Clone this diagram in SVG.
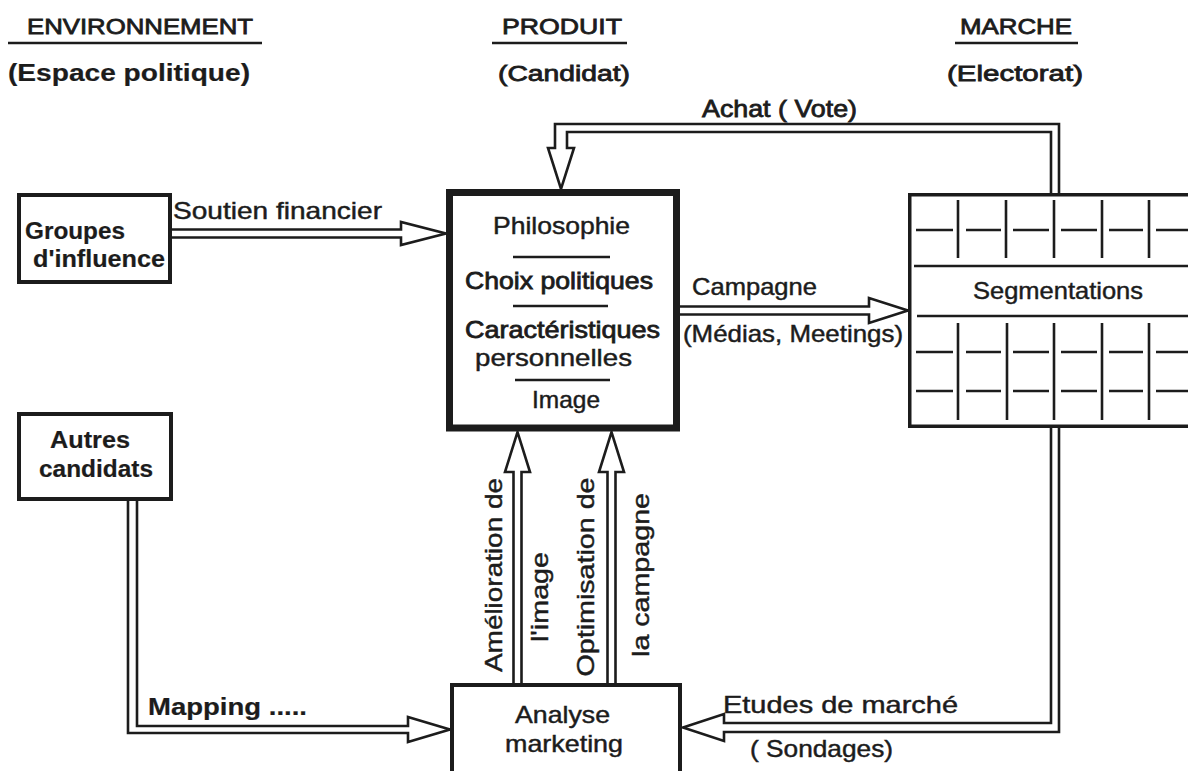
<svg xmlns="http://www.w3.org/2000/svg" width="1188" height="771" viewBox="0 0 1188 771">
<style>
.t{font-family:"Liberation Sans",Arial,Helvetica,sans-serif;font-size:24px;fill:#1c1c1c;stroke:#1c1c1c;stroke-width:0.45}
.h{font-size:22px}
.b{font-weight:bold;stroke-width:0.2;font-size:23px}
.m{stroke-width:0.8}
.ln{stroke:#1c1c1c;fill:none;stroke-width:2.6}
.box{fill:#fff;stroke:#1c1c1c}
.conn{fill:none;stroke:#1c1c1c;stroke-width:2.6;stroke-linejoin:miter;stroke-miterlimit:10}
</style>
<rect width="1188" height="771" fill="#ffffff"/>

<g id="headers">
  <text class="t h m" x="27" y="34" textLength="226" lengthAdjust="spacingAndGlyphs">ENVIRONNEMENT</text>
  <line class="ln" x1="8" y1="43" x2="262" y2="43" stroke-width="3"/>
  <text class="t b" x="8" y="81" textLength="242" lengthAdjust="spacingAndGlyphs">(Espace  politique)</text>
  <text class="t h m" x="502" y="34" textLength="120" lengthAdjust="spacingAndGlyphs">PRODUIT</text>
  <line class="ln" x1="492" y1="43" x2="627" y2="43" stroke-width="3"/>
  <text class="t h m" x="498" y="81" textLength="132" lengthAdjust="spacingAndGlyphs">(Candidat)</text>
  <text class="t h m" x="960" y="34" textLength="112" lengthAdjust="spacingAndGlyphs">MARCHE</text>
  <line class="ln" x1="955" y1="43" x2="1078" y2="43" stroke-width="3"/>
  <text class="t h m" x="947" y="81" textLength="136" lengthAdjust="spacingAndGlyphs">(Electorat)</text>
</g>

<g id="connectors">
  <!-- Achat (Vote) -->
  <path class="conn" d="M1059,193 V124 H555 V148 H548 L561,189 L574,148 H567 V132 H1051 V193"/>
  <!-- Soutien financier -->
  <path class="conn" d="M172,229.5 H401 V222 L446,233.5 L401,245 V237.5 H172"/>
  <!-- Campagne -->
  <path class="conn" d="M680,306.5 H869 V298 L908,310.5 L869,323 V314.5 H680"/>
  <!-- Mapping -->
  <path class="conn" d="M128,501 V733 H408 V742 L450,729.5 L408,717 V726 H137 V501"/>
  <!-- Etudes de marche -->
  <path class="conn" d="M1059,428 V732 H724 V741 L683,727.5 L724,714 V723 H1051 V428"/>
  <!-- Amelioration de l'image -->
  <path class="conn" d="M513.5,683 V472 H505 L517.5,432 L530,472 H521.5 V683"/>
  <!-- Optimisation de la campagne -->
  <path class="conn" d="M607.5,683 V472 H599 L611.5,432 L624,472 H615.5 V683"/>

  <text class="t m" x="702" y="117" textLength="155" lengthAdjust="spacingAndGlyphs">Achat ( Vote)</text>
  <text class="t" x="173" y="219" textLength="209" lengthAdjust="spacingAndGlyphs">Soutien  financier</text>
  <text class="t" x="692" y="295" textLength="125" lengthAdjust="spacingAndGlyphs">Campagne</text>
  <text class="t" x="683" y="342" textLength="220" lengthAdjust="spacingAndGlyphs">(Médias, Meetings)</text>
  <text class="t b" x="148" y="715" textLength="159" lengthAdjust="spacingAndGlyphs">Mapping .....</text>
  <text class="t" x="723" y="713" textLength="235" lengthAdjust="spacingAndGlyphs">Etudes  de  marché</text>
  <text class="t" x="750" y="757" textLength="143" lengthAdjust="spacingAndGlyphs">( Sondages)</text>
  <text class="t" text-anchor="middle" transform="translate(502,575) rotate(-90)" textLength="194" lengthAdjust="spacingAndGlyphs">Amélioration  de</text>
  <text class="t" text-anchor="middle" transform="translate(548,597) rotate(-90)" textLength="90" lengthAdjust="spacingAndGlyphs">l'image</text>
  <text class="t" text-anchor="middle" transform="translate(594,577) rotate(-90)" textLength="199" lengthAdjust="spacingAndGlyphs">Optimisation  de</text>
  <text class="t" text-anchor="middle" transform="translate(649,575) rotate(-90)" textLength="164" lengthAdjust="spacingAndGlyphs">la  campagne</text>
</g>

<g id="groupes">
  <rect class="box" x="19" y="195" width="151" height="87" stroke-width="4"/>
  <text class="t b" x="25" y="239" textLength="100" lengthAdjust="spacingAndGlyphs">Groupes</text>
  <text class="t b" x="33" y="267" textLength="132" lengthAdjust="spacingAndGlyphs">d'influence</text>
</g>

<g id="autres">
  <rect class="box" x="19" y="414" width="152" height="85" stroke-width="4"/>
  <text class="t b" x="50" y="448" textLength="80" lengthAdjust="spacingAndGlyphs">Autres</text>
  <text class="t b" x="39" y="477" textLength="114" lengthAdjust="spacingAndGlyphs">candidats</text>
</g>

<g id="produit">
  <rect class="box" x="449.5" y="192.5" width="227" height="235.5" stroke-width="7"/>
  <text class="t" x="493" y="234" textLength="137" lengthAdjust="spacingAndGlyphs">Philosophie</text>
  <line class="ln" x1="513" y1="257" x2="610" y2="257"/>
  <text class="t m" x="465" y="289" textLength="188" lengthAdjust="spacingAndGlyphs">Choix politiques</text>
  <line class="ln" x1="513" y1="306" x2="608" y2="306"/>
  <text class="t m" x="465" y="338" textLength="195" lengthAdjust="spacingAndGlyphs">Caractéristiques</text>
  <text class="t" x="475" y="366" textLength="157" lengthAdjust="spacingAndGlyphs">personnelles</text>
  <line class="ln" x1="515" y1="380" x2="610" y2="380"/>
  <text class="t" x="532" y="408" textLength="68" lengthAdjust="spacingAndGlyphs">Image</text>
</g>

<g id="segmentations">
  <rect class="box" x="909.75" y="194.75" width="300" height="231.5" stroke-width="3.5"/>
  <g class="ln">
    <line x1="958" y1="200" x2="958" y2="258"/>
    <line x1="1006" y1="200" x2="1006" y2="258"/>
    <line x1="1054" y1="200" x2="1054" y2="258"/>
    <line x1="1102" y1="200" x2="1102" y2="258"/>
    <line x1="1149" y1="200" x2="1149" y2="258"/>
    <path d="M916,230 H953 M966,230 H1001 M1013,230 H1049 M1061,230 H1097 M1109,230 H1143 M1156,230 H1190"/>
    <line x1="914" y1="266" x2="1190" y2="266"/>
    <line x1="917" y1="316" x2="1190" y2="316"/>
    <line x1="958" y1="323" x2="958" y2="420"/>
    <line x1="1007" y1="323" x2="1007" y2="420"/>
    <line x1="1054" y1="323" x2="1054" y2="420"/>
    <line x1="1102" y1="323" x2="1102" y2="420"/>
    <line x1="1149" y1="323" x2="1149" y2="420"/>
    <path d="M916,352 H953 M966,352 H1001 M1013,352 H1049 M1061,352 H1097 M1109,352 H1143 M1156,352 H1190"/>
    <path d="M916,391 H953 M966,391 H1001 M1013,391 H1049 M1061,391 H1097 M1109,391 H1143 M1156,391 H1190"/>
  </g>
  <text class="t" x="973" y="299" textLength="170" lengthAdjust="spacingAndGlyphs">Segmentations</text>
</g>

<g id="analyse">
  <rect class="box" x="452" y="685" width="228" height="100" stroke-width="4"/>
  <text class="t" x="515" y="723" textLength="95" lengthAdjust="spacingAndGlyphs">Analyse</text>
  <text class="t" x="505" y="752" textLength="118" lengthAdjust="spacingAndGlyphs">marketing</text>
</g>
</svg>
